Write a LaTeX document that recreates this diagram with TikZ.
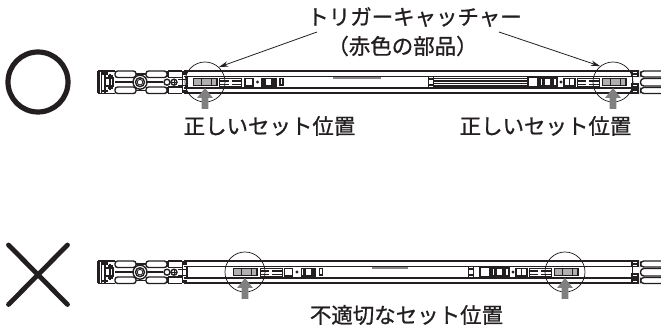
\documentclass[tikz,border=0pt]{standalone}
\usepackage{fontspec}
\setmainfont[FakeBold=0.9]{Noto Sans CJK JP}
\usetikzlibrary{arrows.meta}
\definecolor{ink}{HTML}{231F20}
\definecolor{pointer}{HTML}{808080}
\definecolor{partgray}{HTML}{B0B0B0}
\tikzset{
  label text/.style={font=\fontsize{16.1pt}{18pt}\selectfont,text=ink,inner sep=0pt},
  thickline/.style={draw=ink,line width=1.6pt},
  midline/.style={draw=ink,line width=1.05pt},
  thinline/.style={draw=ink,line width=0.65pt},
  lens/.style={circle,draw=ink,line width=0.55pt,minimum size=30pt,inner sep=0pt},
  leader/.style={draw=ink,line width=0.6pt,-{Stealth[length=7pt,width=4pt]}},
  pointerarrow/.style={draw=none,fill=pointer},
}
% gray up arrow with tip at (#1,#2)
\newcommand{\uparrowmark}[2]{%
  \fill[pointerarrow] (#1,#2) -- ++(8,10) -- ++(-4.6,0) -- ++(0,11) -- ++(-6.8,0) -- ++(0,-11) -- ++(-4.6,0) -- cycle;}
% catcher block starting at x, height band 79-85
\newcommand{\catcher}[1]{%
  \fill[ink] (#1-1,78) rectangle (#1+24,86.5);
  \fill[partgray] (#1,79.3) rectangle (#1+7,85.3);
  \fill[partgray] (#1+8,79.3) rectangle (#1+17,85.3);
  \fill[partgray] (#1+18,79.3) rectangle (#1+21.5,85.3);
}
\newcommand{\hatchbox}[1]{%
  \draw[thinline] (#1,78.5) rectangle (#1+22,86.5);
  \draw[midline] (#1,81) -- (#1+9,81) (#1+12,81) -- (#1+22,81) (#1,84.5) -- (#1+9,84.5) (#1+12,84.5) -- (#1+22,84.5);
}
\newcommand{\smallparts}[1]{%
  \draw[midline] (#1,78.5) rectangle (#1+8,86);
  \fill[ink] (#1+12.5,82) circle (1.6);
  \draw[midline] (#1+17,78.5) rectangle (#1+31,86);
  \fill[ink] (#1+18,79.5) rectangle (#1+21,85);
  \fill[ink] (#1+26,79.5) rectangle (#1+30,85);
  \draw[midline] (#1+35,78.5) rectangle (#1+38,85);
}
\newcommand{\smallpartsR}[1]{%
  \draw[midline] (#1,77.5) rectangle (#1+10,86.5);
  \draw[midline] (#1+12,78) rectangle (#1+29,86);
  \fill[ink] (#1+14,79.5) rectangle (#1+17,85);
  \fill[ink] (#1+22,79.5) rectangle (#1+26,85);
  \fill[ink] (#1+33,82) circle (1.6);
  \draw[midline] (#1+36,78.5) rectangle (#1+47,86);
  \draw[thinline] (#1+41,78.5) -- (#1+41,86);
}
\newcommand{\railbody}{%
  % long rails
  \draw[thickline] (184,71) -- (634,71);
  \draw[midline] (184,76.3) -- (634,76.3);
  \draw[thickline] (184,87.8) -- (634,87.8);
  \draw[thickline] (184,93) -- (634,93);
  % left cap
  \draw[thickline] (98.5,71) -- (98.5,93.5);
  \draw[midline] (98,71) -- (115,71) (98,93.5) -- (115,93.5);
  \draw[midline] (101.5,71) -- (101.5,93.5);
  \draw[midline] (105,71) -- (105,93.5) (110,74) -- (110,90);
  \draw[midline] (105,78) -- (113,78) -- (113,86) -- (105,86);
  \fill[ink] (102,72) rectangle (108,75);
  \fill[ink] (102,90) rectangle (108,92.5);
  \fill[ink] (108,75.5) rectangle (113,77.5);
  \fill[ink] (108,87) rectangle (113,89);
  % rounded bars
  \foreach \xa/\xb in {115/136,146/167}{
    \draw[midline,rounded corners=2pt] (\xa,71) rectangle (\xb,77.5);
    \draw[midline,rounded corners=2pt] (\xa,87) rectangle (\xb,93.5);
  }
  \draw[midline] (168,71) -- (182,71) (168,77.5) -- (182,77.5) (168,87) -- (182,87) (168,93.5) -- (182,93.5);
  \draw[midline] (168,71) -- (168,77.5) (168,87) -- (168,93.5);
  \draw[thickline] (115,82.2) -- (133,82.2) (147,82.2) -- (163,82.2);
  \draw[midline] (136,74) -- (146,74) (136,90.5) -- (146,90.5);
  % hub
  \draw[midline] (140,82.2) circle (7);
  \draw[midline] (140,82.2) circle (4.5);
  \draw[thinline] (140,82.2) circle (2.8);
  % small circles
  \draw[midline] (167,82.2) circle (3);
  \draw[midline] (174,82.2) circle (3);
  \draw[thinline] (174,79.5) -- (174,85) (171.5,82.2) -- (176.5,82.2);
  % bracket by the cap
  \draw[midline] (182.5,72) -- (182.5,93) (187,76) -- (187,89);
  \draw[thinline] (178,79) -- (186,79) (178,85.5) -- (186,85.5);
  \fill[ink] (182,71.5) rectangle (187,75);
  \fill[ink] (182,90) rectangle (187,93);
  % right end
  \draw[midline,rounded corners=2.5pt] (664,71) -- (640.5,71) -- (640.5,77) -- (664,77);
  \draw[midline,rounded corners=2.5pt] (664,78.5) -- (640.5,78.5) -- (640.5,86) -- (664,86);
  \draw[midline,rounded corners=2.5pt] (664,87.5) -- (640.5,87.5) -- (640.5,93.5) -- (664,93.5);
  \draw[midline] (632,71) rectangle (638,76.5);
  \draw[midline] (632,84) rectangle (638,93);
  \fill[ink] (633,73) rectangle (637,75.5);
  \fill[ink] (633,86) rectangle (637,91.5);
  \draw[thinline] (632,71) -- (632,93);
}
\begin{document}
\begin{tikzpicture}[x=0.75pt,y=-0.75pt]
\useasboundingbox (0,0) rectangle (661,331);
\fill[white] (0,0) rectangle (661,331);

% ---- upper rail
\railbody
\catcher{194}
\hatchbox{219.5}
\smallparts{245}
\draw[line width=1.4pt,draw=partgray!70!ink] (333,77.6) -- (381,77.6);
\draw[thinline] (428,77) -- (428,88) (433,77) -- (433,88);
\fill[ink] (428.5,78) rectangle (432.5,80);
\fill[ink] (428.5,84) rectangle (432.5,86);
\foreach \yy in {78.5,81,83.5,86}{\draw[midline] (433,\yy) -- (527,\yy);}
\smallpartsR{528}
\hatchbox{577}
\catcher{603}

% ---- lower rail
\begin{scope}[shift={(0,190)}]
\railbody
\catcher{234}
\hatchbox{260}
\smallparts{284.5}
\draw[line width=1.4pt,draw=partgray!70!ink] (372,77.6) -- (408,77.6);
\draw[thinline] (468,77) -- (468,88) (473,77) -- (473,88);
\fill[ink] (468.5,78) rectangle (472.5,80);
\fill[ink] (468.5,84) rectangle (472.5,86);
\smallpartsR{480}
\hatchbox{529}
\catcher{555}
\end{scope}

% ---- lens circles
\node[lens] (lensTL) at (205,82) {};
\node[lens] (lensTR) at (613,82) {};
\node[lens] (lensBL) at (245,272) {};
\node[lens] (lensBR) at (565,272) {};

% ---- gray arrows
\uparrowmark{205}{88}
\uparrowmark{613}{88}
\uparrowmark{245}{278}
\uparrowmark{565}{278}

% ---- OK / NG marks
\node[circle,draw=ink,line width=3.9pt,minimum size=45pt,inner sep=0pt] (okmark) at (38,82) {};
\coordinate (ngA) at (8.5,245);
\coordinate (ngB) at (67.5,304.5);
\coordinate (ngC) at (67.5,245);
\coordinate (ngD) at (8.5,304.5);
\draw[ink,line width=3.6pt,line cap=round] (ngA) -- (ngB) (ngC) -- (ngD);

% ---- labels
\node[label text] (title) at (414.5,17) {トリガーキャッチャー};
\node[label text] (part) at (402.5,46) {（赤色の部品）};
\node[label text] (okL) at (269.5,126) {正しいセット位置};
\node[label text] (okR) at (545.5,126) {正しいセット位置};
\node[label text] (bad) at (406.5,315) {不適切なセット位置};

% ---- leaders
\coordinate (leadL) at (317,32);
\coordinate (leadR) at (499,32);
\draw[leader] (leadL) -- (lensTL.47);
\draw[leader] (leadR) -- (lensTR.129);
\end{tikzpicture}
\end{document}
